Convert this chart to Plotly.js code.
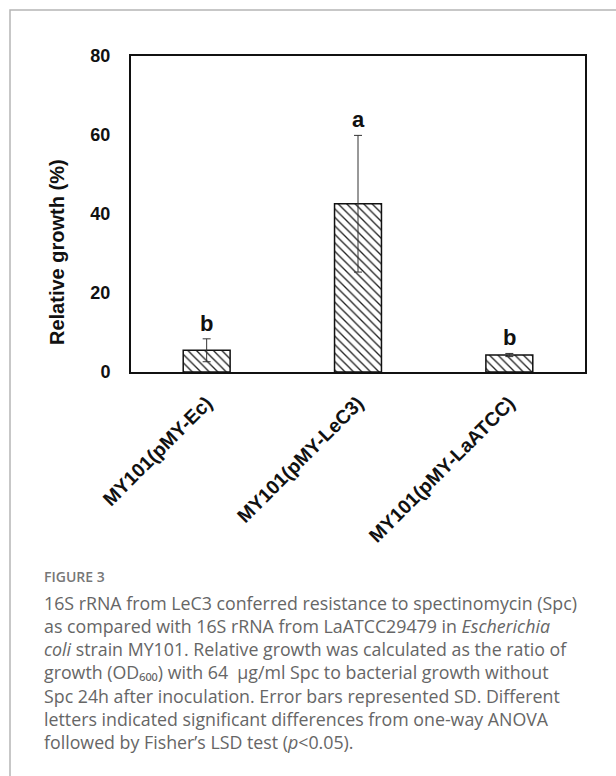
<!DOCTYPE html>
<html>
<head>
<meta charset="utf-8">
<script src="https://cdn.plot.ly/plotly-3.0.1.min.js"></script>
<style>
  html, body { margin: 0; padding: 0; background: #ffffff; }
  #chart { width: 616px; height: 776px; }
</style>
</head>
<body>
<div id="chart"></div>
<script>
// ---- data ----
const categories = ['MY101(pMY-Ec)', 'MY101(pMY-LeC3)', 'MY101(pMY-LaATCC)'];
const growthMean = [5.5, 42.6, 4.3];
const growthSD = [2.9, 17.3, 0.4];
const sigLetters = ['b', 'a', 'b'];
const yTickVals = [0, 20, 40, 60, 80];
const yTickText = ['0', '20', '40', '60', '80'];
const yTitle = 'Relative growth (%)';
const figLabel = 'FIGURE 3';
const captionLines = [
  '16S rRNA from LeC3 conferred resistance to spectinomycin (Spc)',
  'as compared with 16S rRNA from LaATCC29479 in <i>Escherichia</i>',
  '<i>coli</i> strain MY101. Relative growth was calculated as the ratio of',
  'growth (OD\u2086\u2080\u2080) with 64 \u00a0\u03bcg/ml Spc to bacterial growth without',
  'Spc 24h after inoculation. Error bars represented SD. Different',
  'letters indicated significant differences from one-way ANOVA',
  'followed by Fisher\u2019s LSD test (<i>p</i>&lt;0.05).'
];

// ---- geometry (pixels) ----
const W = 616, H = 776;
const plotL = 131, plotR = 585, plotT = 56, plotB = 372;
const pw = plotR - plotL, ph = plotB - plotT;
const px2x = p => (p - plotL) / pw;
const py2y = p => (plotB - p) / ph;

const sans = '"Liberation Sans", Arial, Helvetica, sans-serif';
const capFont = '"Open Sans", "Noto Sans", "DejaVu Sans", sans-serif';

const trace = {
  type: 'bar',
  x: categories,
  y: growthMean,
  marker: {
    color: '#ffffff',
    line: { color: '#111111', width: 1.5 },
    pattern: { shape: '\\', fgcolor: '#222222', bgcolor: '#ffffff', size: 6, solidity: 0.22 }
  },
  error_y: {
    type: 'data',
    array: growthSD,
    visible: true,
    color: '#333333',
    thickness: 1,
    width: 4
  },
  hoverinfo: 'none'
};

const annotations = [];
// significance letters
categories.forEach((c, i) => {
  annotations.push({
    x: c, y: growthMean[i] + growthSD[i], xref: 'x', yref: 'y',
    text: '<b>' + sigLetters[i] + '</b>',
    showarrow: false, yanchor: 'bottom', yshift: 1,
    font: { family: sans, size: 22, color: '#111111' }
  });
});
// y axis title
annotations.push({
  x: px2x(57), y: py2y(252), xref: 'paper', yref: 'paper',
  text: '<b>' + yTitle + '</b>', textangle: -90, showarrow: false,
  xanchor: 'center', yanchor: 'middle',
  font: { family: sans, size: 20, color: '#111111' }
});
// figure label
annotations.push({
  x: px2x(42), y: py2y(576), xref: 'paper', yref: 'paper',
  text: figLabel, showarrow: false, xanchor: 'left', yanchor: 'middle',
  font: { family: capFont, size: 14, color: '#777777', weight: 600 }
});
// caption block
annotations.push({
  x: px2x(42), y: py2y(672), xref: 'paper', yref: 'paper',
  text: captionLines.join('<br>'), showarrow: false,
  xanchor: 'left', yanchor: 'middle', align: 'left',
  font: { family: capFont, size: 17.8, color: '#666666' }
});

const layout = {
  width: W, height: H,
  margin: { l: plotL, r: W - plotR, t: plotT, b: H - plotB, pad: 0 },
  paper_bgcolor: '#ffffff',
  plot_bgcolor: '#ffffff',
  showlegend: false,
  bargap: 0.69,
  xaxis: {
    type: 'category',
    showline: true, mirror: true, linecolor: '#111111', linewidth: 2,
    ticks: '', showgrid: false, zeroline: false,
    tickangle: -45,
    ticklabelstandoff: 10,
    tickfont: { family: sans, size: 19.5, color: '#111111', weight: 'bold' },
    automargin: false
  },
  yaxis: {
    range: [0, 80],
    tickvals: yTickVals, ticktext: yTickText,
    showline: true, mirror: true, linecolor: '#111111', linewidth: 2,
    ticks: '', showgrid: false, zeroline: false,
    ticklabelstandoff: 15,
    tickfont: { family: sans, size: 18, color: '#111111', weight: 'bold' },
    automargin: false
  },
  shapes: [{
    type: 'rect', xref: 'paper', yref: 'paper',
    x0: px2x(10), x1: px2x(640), y0: py2y(800), y1: py2y(10),
    line: { color: '#b5b5b5', width: 1.5 }, fillcolor: 'rgba(0,0,0,0)', layer: 'below'
  }],
  annotations: annotations
};

Plotly.newPlot('chart', [trace], layout, { displayModeBar: false, staticPlot: true });
</script>
</body>
</html>
